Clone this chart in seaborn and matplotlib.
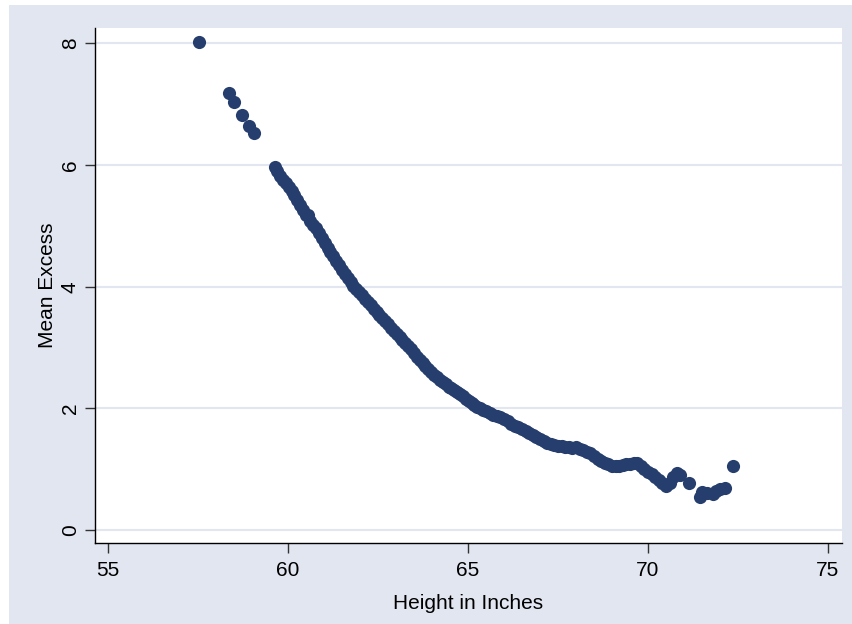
import pandas as pd
import matplotlib
matplotlib.use('Agg')
import matplotlib.pyplot as plt
import seaborn as sns
from matplotlib.patches import Rectangle

sns.set_style('white')
plt.rcParams['font.family'] = ['Liberation Sans', 'DejaVu Sans']

# values
height = [57.53, 58.36, 58.51, 58.73, 58.93, 59.06,
          59.64, 59.70, 59.78, 59.86, 59.94, 60.02, 60.10, 60.18, 60.26, 60.34,
          60.42, 60.50, 60.55, 60.62, 60.70, 60.78, 60.86, 60.94, 61.02, 61.10,
          61.18, 61.26, 61.34, 61.42, 61.50, 61.58, 61.66, 61.74, 61.82, 61.90,
          61.98, 62.06, 62.14, 62.22, 62.30, 62.38, 62.46, 62.54, 62.62, 62.70,
          62.78, 62.86, 62.94, 63.02, 63.10, 63.18, 63.26, 63.34, 63.42, 63.50,
          63.58, 63.66, 63.74, 63.82, 63.90, 63.98, 64.06, 64.14, 64.22, 64.30,
          64.38, 64.46, 64.54, 64.62, 64.70, 64.78, 64.86, 64.94, 65.02, 65.10,
          65.18, 65.26, 65.34, 65.42, 65.50, 65.60, 65.70, 65.80, 65.90, 66.00,
          66.10, 66.20, 66.30, 66.40, 66.50, 66.60, 66.70, 66.80, 66.90, 67.00,
          67.10, 67.20, 67.30, 67.40, 67.50, 67.60, 67.70, 67.80, 67.90, 68.00,
          68.10, 68.20, 68.30, 68.40, 68.50, 68.60, 68.70, 68.80, 68.90, 69.00,
          69.10, 69.20, 69.30, 69.40, 69.50, 69.60, 69.70, 69.80, 69.90, 70.00,
          70.10, 70.20, 70.30, 70.40, 70.50, 70.60, 70.70, 70.80, 70.90, 71.15,
          71.45, 71.50, 71.65, 71.80, 71.90, 72.00, 72.15, 72.37]
mean_excess = [8.02, 7.18, 7.03, 6.82, 6.64, 6.53,
               5.96, 5.90, 5.82, 5.76, 5.70, 5.64, 5.58, 5.50, 5.42, 5.34,
               5.26, 5.18, 5.17, 5.08, 5.02, 4.96, 4.89, 4.80, 4.72, 4.64,
               4.57, 4.50, 4.42, 4.35, 4.28, 4.21, 4.14, 4.08, 4.02, 3.96,
               3.91, 3.86, 3.80, 3.75, 3.70, 3.64, 3.59, 3.53, 3.48, 3.43,
               3.38, 3.33, 3.28, 3.23, 3.18, 3.13, 3.08, 3.02, 2.97, 2.91,
               2.85, 2.80, 2.75, 2.70, 2.65, 2.60, 2.55, 2.51, 2.47, 2.43,
               2.40, 2.36, 2.33, 2.30, 2.27, 2.24, 2.20, 2.16, 2.12, 2.09,
               2.06, 2.03, 2.00, 1.98, 1.96, 1.93, 1.90, 1.88, 1.86, 1.83,
               1.79, 1.75, 1.72, 1.69, 1.66, 1.63, 1.60, 1.56, 1.53, 1.50,
               1.47, 1.44, 1.42, 1.40, 1.38, 1.38, 1.37, 1.36, 1.35, 1.37,
               1.34, 1.31, 1.29, 1.27, 1.22, 1.17, 1.13, 1.10, 1.08, 1.06,
               1.05, 1.06, 1.07, 1.09, 1.09, 1.10, 1.11, 1.06, 1.00, 0.95,
               0.93, 0.88, 0.82, 0.77, 0.72, 0.78, 0.88, 0.94, 0.90, 0.78,
               0.55, 0.62, 0.61, 0.60, 0.65, 0.68, 0.70, 1.06]
x_ticks = [55, 60, 65, 70, 75]
y_ticks = [0, 2, 4, 6, 8]

df = pd.DataFrame({'height': height, 'mean_excess': mean_excess})

bg = '#E2E6F0'
fig = plt.figure(figsize=(8.52, 6.24), dpi=100, facecolor='white')
# stata style grey panel behind the plot
fig.patches.append(Rectangle((9/852, 0), 1, 619/624, transform=fig.transFigure,
                             facecolor=bg, edgecolor='none', zorder=-10))
ax = fig.add_axes([95/852, 1-543/624, 747/852, 515/624])
ax.set_facecolor('white')

sns.scatterplot(data=df, x='height', y='mean_excess', ax=ax, color='#263E6E',
                s=90, linewidth=0, zorder=3)

ax.set_xlim(54.64, 75.39)
ax.set_ylim(-0.21, 8.25)
ax.set_xticks(x_ticks)
ax.set_yticks(y_ticks)
ax.yaxis.grid(True, color=bg, linewidth=1.5)
ax.xaxis.grid(False)
ax.set_axisbelow(True)

for s in ['top', 'right']:
    ax.spines[s].set_visible(False)
for s in ['left', 'bottom']:
    ax.spines[s].set_color('black')
    ax.spines[s].set_linewidth(1.0)

ax.tick_params(axis='both', which='major', direction='out', length=7, width=1,
               color='#333333', labelcolor='black', labelsize=15, pad=4,
               bottom=True, left=True)
ax.tick_params(axis='x', pad=6)
for lab in ax.get_yticklabels():
    lab.set_rotation(90)
    lab.set_va('center')

ax.set_xlabel('Height in Inches', fontsize=15, labelpad=10, color='black')
ax.set_ylabel('Mean Excess', fontsize=15, labelpad=3, color='black')

fig.savefig('out.png', dpi=100, facecolor='white')
